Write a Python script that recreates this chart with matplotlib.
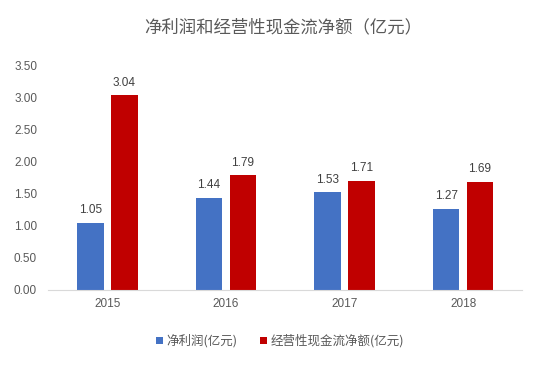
import matplotlib
matplotlib.use("Agg")
import matplotlib.pyplot as plt
import numpy as np

plt.rcParams['font.family'] = ['Liberation Sans', 'Noto Sans CJK SC', 'DejaVu Sans']

years = ["2015", "2016", "2017", "2018"]
net_profit = [1.05, 1.44, 1.53, 1.27]
op_cash = [3.04, 1.79, 1.71, 1.69]
series_names = ["净利润(亿元)", "经营性现金流净额(亿元)"]
title = "净利润和经营性现金流净额（亿元）"

fig = plt.figure(figsize=(5.5, 3.66), dpi=100)
ax = fig.add_axes([0.0877, 0.2077, 0.862, 0.612])

x = np.arange(len(years))
w = 0.225
off = 0.143
c1, c2 = "#4472C4", "#C00000"
b1 = ax.bar(x - off, net_profit, w, color=c1, label=series_names[0])
b2 = ax.bar(x + off, op_cash, w, color=c2, label=series_names[1])

for bars, vals in ((b1, net_profit), (b2, op_cash)):
    for r, v in zip(bars, vals):
        ax.text(r.get_x() + r.get_width() / 2, v + 0.1, f"{v:.2f}",
                ha="center", va="bottom", fontsize=8.5, color="#404040")

ax.set_xlim(-0.5, 3.5)
ax.set_ylim(0, 3.5)
ax.set_yticks(np.arange(0, 3.51, 0.5))
ax.set_yticklabels([f"{v:.2f}" for v in np.arange(0, 3.51, 0.5)])
ax.set_xticks(x)
ax.set_xticklabels(years)
for s in ("top", "right", "left"):
    ax.spines[s].set_visible(False)
ax.spines["bottom"].set_color("#D9D9D9")
ax.tick_params(axis="both", length=0, colors="#595959", labelsize=8.5)
ax.tick_params(axis="y", pad=8)
ax.tick_params(axis="x", pad=6)

fig.text(0.515, 0.925, title, ha="center", va="center", fontsize=12.5,
         color="#595959", family=['Noto Sans CJK SC', 'DejaVu Sans'])

fig.legend(handles=[b1, b2], loc="center", bbox_to_anchor=(0.509, 0.068), ncol=2,
           frameon=False, handlelength=0.55, handleheight=0.55,
           handletextpad=0.3, columnspacing=1.8, labelcolor="#595959",
           prop={'family': ['Noto Sans CJK SC', 'DejaVu Sans'], 'size': 9})

fig.savefig("out.png", dpi=100)
